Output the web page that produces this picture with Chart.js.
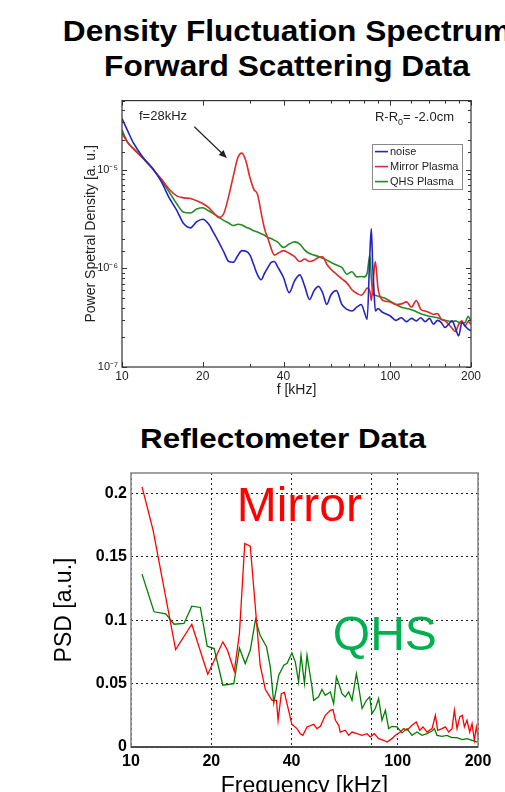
<!DOCTYPE html>
<html>
<head>
<meta charset="utf-8">
<title>Density Fluctuation Spectrum</title>
<script src="https://cdn.jsdelivr.net/npm/chart.js@4.4.1/dist/chart.umd.min.js"></script>
<style>
	html, body { margin: 0; padding: 0; background: #fff; }
	body { width: 505px; height: 792px; overflow: hidden; position: relative; font-family: "Liberation Sans", Arial, sans-serif; }
	.title { position: absolute; white-space: nowrap; font-weight: bold; line-height: 1; color: #000; }
	.top-title { left: 287px; font-size: 30px; transform: translateX(-50%) scaleX(1.055); }
	.refl-title { left: 283px; font-size: 28px; transform: translateX(-50%) scaleX(1.12); }
	canvas { position: absolute; left: 0; }
</style>
</head>
<body>
<div class="title top-title" style="top: 16px">Density Fluctuation Spectrum</div>
<div class="title top-title" style="top: 51px">Forward Scattering Data</div>
<div class="title refl-title" style="top: 425px">Reflectometer Data</div>
<canvas id="fwdChart" width="505" height="320" style="top: 90px"></canvas>
<canvas id="reflChart" width="505" height="360" style="top: 450px"></canvas>

<script>
// forward scattering spectra, f [kHz] vs PSD [a.u.]
const fwdFreq = [10, 10.5, 11, 12, 13, 14, 15, 16, 17, 18, 19, 20, 21, 22, 23, 24, 25, 26, 27, 28,
	29, 30, 31, 32, 33, 34, 35, 36, 37, 38, 40, 42, 44, 46, 48, 50, 52, 54, 56, 58,
	60, 63, 66, 69, 72, 75, 78, 80, 82, 84, 85, 86, 87, 88, 90, 93, 96, 100, 105, 110,
	115, 120, 125, 130, 135, 140, 145, 150, 155, 160, 165, 170, 175, 180, 185, 190, 195, 200];

const noisePsd = [3.29e-5, 2.47e-5, 1.89e-5, 1.32e-5, 1.03e-5, 7.59e-6, 5.17e-6, 3.86e-6, 2.82e-6, 2.57e-6,
	2.97e-6, 3.14e-6, 2.82e-6, 2.27e-6, 1.82e-6, 1.45e-6, 1.17e-6, 1.15e-6, 1.34e-6, 1.51e-6,
	1.49e-6, 1.36e-6, 1.08e-6, 8.58e-7, 7.65e-7, 8.91e-7, 1.02e-6, 1.15e-6, 1.17e-6, 1.04e-6,
	8.07e-7, 5.67e-7, 7.47e-7, 8.58e-7, 6.56e-7, 4.83e-7, 5.94e-7, 6.56e-7, 5.62e-7, 4.30e-7,
	5.33e-7, 5.94e-7, 4.30e-7, 3.83e-7, 3.69e-7, 4.04e-7, 4.30e-7, 3.63e-7, 3.04e-7, 1.47e-6,
	2.51e-6, 1.08e-6, 5.85e-7, 3.69e-7, 3.92e-7, 3.63e-7, 3.47e-7, 3.29e-7, 2.97e-7, 3.16e-7,
	2.88e-7, 3.11e-7, 2.93e-7, 3.16e-7, 2.88e-7, 3.11e-7, 2.71e-7, 2.97e-7, 2.82e-7, 2.51e-7,
	2.71e-7, 2.93e-7, 2.47e-7, 2.07e-7, 2.82e-7, 2.61e-7, 2.42e-7, 2.33e-7];

const mirrorPsd = [2.33e-5, 1.88e-5, 1.63e-5, 1.30e-5, 1.02e-5, 8.07e-6, 6.31e-6, 5.41e-6, 5.17e-6, 5.09e-6,
	4.83e-6, 4.54e-6, 4.14e-6, 3.63e-6, 3.26e-6, 3.63e-6, 5.41e-6, 8.58e-6, 1.31e-5, 1.47e-5,
	1.21e-5, 8.25e-6, 6.31e-6, 5.62e-6, 3.69e-6, 2.51e-6, 2.0e-6, 1.58e-6, 1.36e-6, 1.41e-6,
	1.51e-6, 1.42e-6, 1.31e-6, 1.17e-6, 1.24e-6, 1.17e-6, 1.21e-6, 1.29e-6, 1.31e-6, 1.10e-6,
	9.85e-7, 8.71e-7, 7.82e-7, 7.08e-7, 6.07e-7, 5.58e-7, 5.33e-7, 5.71e-7, 6.31e-7, 5.85e-7,
	4.71e-7, 6.31e-7, 9.26e-7, 1.17e-6, 6.31e-7, 4.83e-7, 4.64e-7, 4.57e-7, 4.30e-7, 4.36e-7,
	4.57e-7, 4.04e-7, 4.71e-7, 3.83e-7, 3.69e-7, 3.55e-7, 3.41e-7, 3.47e-7, 3.04e-7, 2.93e-7,
	2.71e-7, 2.47e-7, 2.29e-7, 2.71e-7, 2.93e-7, 2.61e-7, 2.88e-7, 2.71e-7];

const qhsPsd = [2.51e-5, 1.89e-5, 1.65e-5, 1.30e-5, 1.02e-5, 7.82e-6, 5.93e-6, 4.50e-6, 3.69e-6, 3.63e-6,
	3.98e-6, 4.10e-6, 3.83e-6, 3.55e-6, 3.29e-6, 3.04e-6, 2.88e-6, 2.71e-6, 2.79e-6, 2.75e-6,
	2.61e-6, 2.51e-6, 2.40e-6, 2.33e-6, 2.24e-6, 2.16e-6, 2.05e-6, 2.0e-6, 1.92e-6, 1.85e-6,
	1.63e-6, 1.76e-6, 1.85e-6, 1.76e-6, 1.53e-6, 1.41e-6, 1.36e-6, 1.32e-6, 1.26e-6, 1.21e-6,
	1.15e-6, 1.08e-6, 1.02e-6, 8.71e-7, 9.24e-7, 8.19e-7, 8.25e-7, 8.19e-7, 8.91e-7, 1.36e-6,
	7.94e-7, 5.85e-7, 5.33e-7, 5.33e-7, 5.21e-7, 5.09e-7, 4.95e-7, 4.64e-7, 4.30e-7, 4.04e-7,
	3.92e-7, 3.80e-7, 3.63e-7, 3.47e-7, 3.36e-7, 3.26e-7, 3.21e-7, 3.16e-7, 3.04e-7, 2.97e-7,
	2.93e-7, 2.88e-7, 2.93e-7, 2.84e-7, 2.79e-7, 2.82e-7, 3.26e-7, 2.93e-7];

// reflectometer spectra, Frequency [kHz] vs PSD [a.u.]
const reflMirrorFreq = [11.0, 12.1, 14.7, 16.9, 19.4, 22.1, 23.0, 24.4, 25.5, 26.7,
	28.0, 30.5, 31.9, 33.8, 35.1, 35.6, 36.6, 37.6, 40.1, 41.9,
	43.1, 44.1, 45.7, 48.4, 49.8, 51.3, 53.5, 55.9, 57.2, 58.4,
	60.1, 60.9, 63.6, 65.5, 67.4, 70.4, 73.5, 76.7, 78.9, 81.7,
	84.8, 88.6, 91.2, 95.2, 98.0, 102.3, 105.3, 108.4, 113.1, 117.4,
	120.9, 124.4, 128.8, 134.5, 138.4, 141.2, 146.6, 150.9, 155.3, 159.8,
	163.1, 166.9, 170.8, 174.7, 177.8, 181.9, 186.2, 190.0, 193.8, 197.2, 200];
const reflMirrorPsd = [0.205, 0.171, 0.0768, 0.0968, 0.0574, 0.0829, 0.0763, 0.0597, 0.0895, 0.1605,
	0.1584, 0.0645, 0.0453, 0.0368, 0.0368, 0.021, 0.042, 0.043, 0.0179, 0.0145,
	0.0105, 0.0092, 0.0158, 0.0179, 0.0145, 0.0163, 0.025, 0.0289, 0.0295, 0.0211,
	0.0171, 0.0118, 0.0132, 0.0092, 0.0118, 0.0105, 0.0092, 0.0105, 0.0079, 0.0105,
	0.0066, 0.0053, 0.0039, 0.0066, 0.0092, 0.0118, 0.0145, 0.0132, 0.0171, 0.0197,
	0.0132, 0.0158, 0.0118, 0.0145, 0.025, 0.0132, 0.0145, 0.0158, 0.0118, 0.0145,
	0.0289, 0.0145, 0.0237, 0.025, 0.0158, 0.0211, 0.0118, 0.0184, 0.0053, 0.0158, 0.0079];

const reflQhsFreq = [11.0, 12.2, 13.5, 14.5, 15.8, 16.9, 18.2, 19.3, 20.5, 22.1,
	24.3, 25.5, 26.8, 28.0, 29.3, 30.5, 32.2, 33.3, 34.3, 35.8,
	37.4, 38.5, 40.1, 41.3, 42.5, 43.4, 44.7, 45.7, 47.7, 48.4,
	50.5, 52.0, 53.5, 55.9, 57.5, 58.9, 60.1, 61.8, 63.6, 65.5,
	67.4, 70.0, 71.4, 73.5, 76.3, 78.5, 80.1, 82.4, 84.8, 87.3,
	89.9, 92.5, 95.2, 99.4, 103.8, 108.4, 113.1, 118.1, 123.4, 128.8,
	134.5, 137.2, 140.4, 146.6, 153.0, 159.8, 166.9, 174.2, 181.9, 190.0, 198.4, 200];
const reflQhsPsd = [0.1363, 0.1066, 0.105, 0.0968, 0.0974, 0.111, 0.110, 0.0795, 0.0776, 0.0487,
	0.050, 0.078, 0.0658, 0.0763, 0.1005, 0.088, 0.079, 0.063, 0.0347, 0.0566,
	0.0645, 0.066, 0.0742, 0.0671, 0.0513, 0.0724, 0.050, 0.0724, 0.0474, 0.0368,
	0.0395, 0.0453, 0.0408, 0.0434, 0.0342, 0.0553, 0.050, 0.0421, 0.0395, 0.0434,
	0.0368, 0.0579, 0.0474, 0.0303, 0.0368, 0.0395, 0.0263, 0.0303, 0.0382, 0.0211,
	0.0289, 0.0145, 0.0163, 0.0158, 0.0111, 0.0145, 0.0092, 0.0118, 0.0092, 0.0105,
	0.0126, 0.0145, 0.0092, 0.0084, 0.0092, 0.0074, 0.0074, 0.0058, 0.0066, 0.0053, 0.0039, 0.0047];

// axis ticks
const fwdXTicks = [10, 20, 30, 40, 50, 60, 70, 80, 90, 100, 120, 140, 160, 180, 200];
const fwdXLabels = [10, 20, 40, 100, 200];
const reflXTicks = [10, 20, 40, 80, 100, 200];
const reflXLabels = [10, 20, 40, 100, 200];
const reflYTicks = [0, 0.05, 0.1, 0.15, 0.2];

const fontFamily = '"Liberation Sans", Arial, sans-serif';
Chart.defaults.font.family = fontFamily;

function toPoints(xs, ys) {
	return xs.map(function (x, i) { return { x: x, y: ys[i] }; });
}

let supDigits = { "-": "\u207B", "0": "\u2070", "1": "\u00B9", "2": "\u00B2", "3": "\u00B3",
	"4": "\u2074", "5": "\u2075", "6": "\u2076", "7": "\u2077", "8": "\u2078", "9": "\u2079" };

function isDecade(v) {
	let e = Math.log10(v);
	return Math.abs(e - Math.round(e)) < 1e-6;
}

function powerLabel(v) {
	if (!isDecade(v)) return "";
	return "10" + String(Math.round(Math.log10(v))).split("").map(function (c) { return supDigits[c]; }).join("");
}

// frame around the plot area, with inward tick marks on all four sides
const axesBox = {
	id: "axesBox",
	afterDatasetsDraw(chart, args, opts) {
		let ctx = chart.ctx;
		let a = chart.chartArea;
		ctx.save();
		if (opts.ticks) {
			let x = chart.scales.x, y = chart.scales.y;
			ctx.strokeStyle = opts.color;
			ctx.lineWidth = 1;
			ctx.beginPath();
			x.ticks.forEach(function (t) {
				let px = Math.round(x.getPixelForValue(t.value)) + 0.5;
				let len = fwdXLabels.includes(t.value) ? 5 : 3;
				ctx.moveTo(px, a.bottom); ctx.lineTo(px, a.bottom - len);
				ctx.moveTo(px, a.top); ctx.lineTo(px, a.top + len);
			});
			y.ticks.forEach(function (t) {
				let py = Math.round(y.getPixelForValue(t.value)) + 0.5;
				let len = isDecade(t.value) ? 5 : 3;
				ctx.moveTo(a.left, py); ctx.lineTo(a.left + len, py);
				ctx.moveTo(a.right, py); ctx.lineTo(a.right - len, py);
			});
			ctx.stroke();
		}
		ctx.strokeStyle = opts.color;
		ctx.lineWidth = opts.width;
		ctx.strokeRect(a.left, a.top, a.right - a.left, a.bottom - a.top);
		if (opts.bottomColor) {
			ctx.strokeStyle = opts.bottomColor;
			ctx.beginPath();
			ctx.moveTo(a.left, a.bottom);
			ctx.lineTo(a.right, a.bottom);
			ctx.stroke();
		}
		ctx.restore();
	}
};

// legend box and the two notes of the forward scattering plot
const fwdNotes = {
	id: "fwdNotes",
	afterDatasetsDraw(chart) {
		let ctx = chart.ctx;
		let a = chart.chartArea;
		let x = chart.scales.x, y = chart.scales.y;
		ctx.save();

		// legend
		let w = 90, h = 45;
		let lx = a.right - 9 - w, ly = a.top + 43.5;
		ctx.fillStyle = "#fff";
		ctx.fillRect(lx, ly, w, h);
		ctx.strokeStyle = "#888";
		ctx.lineWidth = 1;
		ctx.strokeRect(Math.round(lx) + 0.5, Math.round(ly) + 0.5, w, h);
		ctx.font = "11px " + fontFamily;
		ctx.textBaseline = "middle";
		chart.data.datasets.forEach(function (ds, i) {
			let ey = ly + 7.5 + i * 15;
			ctx.strokeStyle = ds.borderColor;
			ctx.lineWidth = 1.6;
			ctx.beginPath();
			ctx.moveTo(lx + 3, ey);
			ctx.lineTo(lx + 16, ey);
			ctx.stroke();
			ctx.fillStyle = "#222";
			ctx.fillText(ds.label, lx + 18, ey);
		});

		// peak note and arrow
		ctx.font = "13px " + fontFamily;
		ctx.fillStyle = "#222";
		ctx.textAlign = "left";
		ctx.fillText("f=28kHz", x.getPixelForValue(11.57), y.getPixelForValue(3.42e-5));
		let x0 = x.getPixelForValue(18.6), y0 = y.getPixelForValue(2.72e-5);
		let x1 = x.getPixelForValue(24.6), y1 = y.getPixelForValue(1.31e-5);
		let ang = Math.atan2(y1 - y0, x1 - x0);
		ctx.strokeStyle = "#222";
		ctx.lineWidth = 1.2;
		ctx.beginPath();
		ctx.moveTo(x0, y0);
		ctx.lineTo(x1 - 5 * Math.cos(ang), y1 - 5 * Math.sin(ang));
		ctx.stroke();
		ctx.beginPath();
		ctx.moveTo(x1, y1);
		ctx.lineTo(x1 - 8 * Math.cos(ang) + 3.5 * Math.sin(ang), y1 - 8 * Math.sin(ang) - 3.5 * Math.cos(ang));
		ctx.lineTo(x1 - 8 * Math.cos(ang) - 3.5 * Math.sin(ang), y1 - 8 * Math.sin(ang) + 3.5 * Math.cos(ang));
		ctx.closePath();
		ctx.fill();

		// radial position note, R-R0 with subscript
		let rx = x.getPixelForValue(172.8), ry = y.getPixelForValue(3.37e-5);
		let big = "13px " + fontFamily, small = "9px " + fontFamily;
		ctx.font = big;
		let wA = ctx.measureText("R-R").width, wC = ctx.measureText("= -2.0cm").width;
		ctx.font = small;
		let wB = ctx.measureText("0").width;
		let sx = rx - wA - wB - wC;
		ctx.font = big;
		ctx.fillText("R-R", sx, ry);
		ctx.font = small;
		ctx.fillText("0", sx + wA, ry + 5);
		ctx.font = big;
		ctx.fillText("= -2.0cm", sx + wA + wB, ry);
		ctx.restore();
	}
};

// series names written inside the reflectometer plot
const reflNames = {
	id: "reflNames",
	afterDatasetsDraw(chart) {
		let ctx = chart.ctx;
		let x = chart.scales.x, y = chart.scales.y;
		ctx.save();
		ctx.font = "48px " + fontFamily;
		ctx.textBaseline = "alphabetic";
		ctx.fillStyle = "#ff0000";
		ctx.fillText("Mirror", x.getPixelForValue(24.9), y.getPixelForValue(0.1778));
		ctx.fillStyle = "#00b050";
		ctx.fillText("QHS", x.getPixelForValue(57.1), y.getPixelForValue(0.0766));
		ctx.restore();
	}
};

let fwdChart = new Chart(document.getElementById("fwdChart"), {
	type: "line",
	data: {
		datasets: [
			{ label: "noise", data: toPoints(fwdFreq, noisePsd), borderColor: "#2323c6" },
			{ label: "Mirror Plasma", data: toPoints(fwdFreq, mirrorPsd), borderColor: "#dc2b2b" },
			{ label: "QHS Plasma", data: toPoints(fwdFreq, qhsPsd), borderColor: "#268a26" }
		]
	},
	options: {
		responsive: false,
		animation: false,
		devicePixelRatio: 1,
		layout: { padding: { left: 79, right: 34, top: 7, bottom: 0 } },
		elements: {
			point: { radius: 0 },
			line: { borderWidth: 1.6, cubicInterpolationMode: "monotone" }
		},
		plugins: {
			legend: { display: false },
			tooltip: { enabled: false },
			axesBox: { color: "#333", width: 1.2, ticks: true }
		},
		scales: {
			x: {
				type: "logarithmic",
				min: 10,
				max: 200,
				afterBuildTicks: function (s) { s.ticks = fwdXTicks.map(function (v) { return { value: v }; }); },
				afterFit: function (s) { s.height = 43; },
				grid: { display: false, drawTicks: false },
				border: { display: false },
				ticks: {
					autoSkip: false,
					maxRotation: 0,
					padding: 2,
					color: "#222",
					font: { size: 12 },
					callback: function (v) { return fwdXLabels.includes(v) ? String(v) : ""; }
				},
				title: { display: true, text: "f [kHz]", color: "#222", font: { size: 14 }, padding: { top: 0, bottom: 11 } }
			},
			y: {
				type: "logarithmic",
				min: 1e-7,
				max: 5e-5,
				afterFit: function (s) { s.width = 43; },
				grid: { display: false, drawTicks: false },
				border: { display: false },
				ticks: {
					autoSkip: false,
					padding: 4,
					color: "#222",
					font: { size: 11 },
					callback: function (v) { return powerLabel(v); }
				},
				title: { display: true, text: "Power Spetral Density [a. u.]", color: "#222", font: { size: 14 }, padding: { top: 4, bottom: 4 } }
			}
		}
	},
	plugins: [axesBox, fwdNotes]
});

let reflChart = new Chart(document.getElementById("reflChart"), {
	type: "line",
	data: {
		datasets: [
			{ label: "Mirror", data: toPoints(reflMirrorFreq, reflMirrorPsd), borderColor: "#ff0000" },
			{ label: "QHS", data: toPoints(reflQhsFreq, reflQhsPsd), borderColor: "#008000" }
		]
	},
	options: {
		responsive: false,
		animation: false,
		devicePixelRatio: 1,
		layout: { padding: { left: 47, right: 27, top: 23, bottom: 0 } },
		elements: {
			point: { radius: 0 },
			line: { borderWidth: 1.3, tension: 0 }
		},
		plugins: {
			legend: { display: false },
			tooltip: { enabled: false },
			axesBox: { color: "#8a8a8a", width: 1.6, bottomColor: "#333" }
		},
		scales: {
			x: {
				type: "logarithmic",
				min: 10,
				max: 200,
				afterBuildTicks: function (s) { s.ticks = reflXTicks.map(function (v) { return { value: v }; }); },
				afterFit: function (s) { s.height = 63; },
				grid: { color: "#222", lineWidth: 1, drawTicks: false },
				border: { display: false, dash: [2, 3] },
				ticks: {
					autoSkip: false,
					maxRotation: 0,
					padding: 5,
					color: "#000",
					font: { size: 16, weight: "bold" },
					callback: function (v) { return reflXLabels.includes(v) ? String(v) : ""; }
				},
				title: { display: true, text: "Frequency [kHz]", color: "#000", font: { size: 23 }, padding: { top: 0, bottom: 10 } }
			},
			y: {
				min: 0,
				max: 0.216,
				afterBuildTicks: function (s) { s.ticks = reflYTicks.map(function (v) { return { value: v }; }); },
				afterFit: function (s) { s.width = 84; },
				grid: { color: "#222", lineWidth: 1, drawTicks: false },
				border: { display: false, dash: [2, 3] },
				ticks: {
					autoSkip: false,
					padding: 4,
					color: "#000",
					font: { size: 16, weight: "bold" },
					callback: function (v) { return String(v); }
				},
				title: { display: true, text: "PSD [a.u.]", color: "#000", font: { size: 23 }, padding: { top: 4, bottom: 4 } }
			}
		}
	},
	plugins: [axesBox, reflNames]
});
</script>
</body>
</html>
